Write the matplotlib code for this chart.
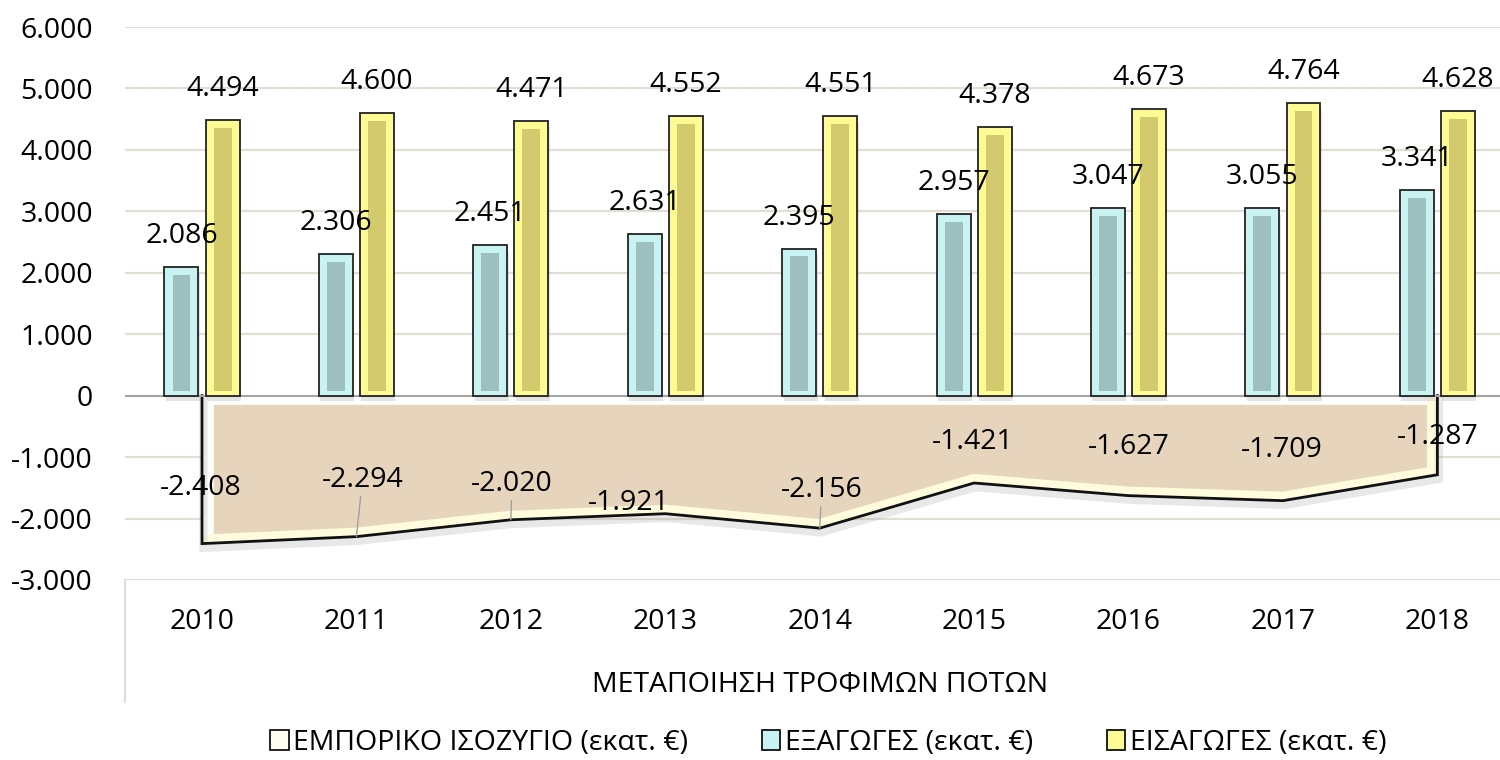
import numpy as np
import matplotlib
matplotlib.use("Agg")
import matplotlib.pyplot as plt
from matplotlib.patches import Polygon, Patch
from matplotlib import patheffects as pe
from matplotlib.transforms import blended_transform_factory

# ---------------- data ----------------
years = ["2010", "2011", "2012", "2013", "2014", "2015", "2016", "2017", "2018"]
exports = [2086, 2306, 2451, 2631, 2395, 2957, 3047, 3055, 3341]
imports = [4494, 4600, 4471, 4552, 4551, 4378, 4673, 4764, 4628]
balance = [-2408, -2294, -2020, -1921, -2156, -1421, -1627, -1709, -1287]
y_ticks = [-3000, -2000, -1000, 0, 1000, 2000, 3000, 4000, 5000, 6000]
group_label = "ΜΕΤΑΠΟΙΗΣΗ ΤΡΟΦΙΜΩΝ ΠΟΤΩΝ"
legend_labels = ["ΕΜΠΟΡΙΚΟ ΙΣΟΖΥΓΙΟ (εκατ. €)", "ΕΞΑΓΩΓΕΣ (εκατ. €)", "ΕΙΣΑΓΩΓΕΣ (εκατ. €)"]

# ---------------- style ----------------
plt.rcParams['font.family'] = ['Open Sans', 'DejaVu Sans']
FS = 20.5
GRID = '#E2DED4'
TAN = '#E6D5BC'
CREAM = '#FFFCDD'
EXP_OUT, EXP_IN = '#C9F3F2', '#9DBFBD'
IMP_OUT, IMP_IN = '#FFFB94', '#D3CA6D'

def fmt(v):
    return f"{v:,}".replace(",", ".")

W, H = 1500, 760
fig = plt.figure(figsize=(W / 100, H / 100), dpi=100)
x_left, x_right = 124.8, 1514.6
y_top, y_bot = 27, 580
ax = fig.add_axes([x_left / W, 1 - y_bot / H, (x_right - x_left) / W, (y_bot - y_top) / H])
ax.set_xlim(-0.5, len(years) - 0.5)
ax.set_ylim(-3000, 6000)
for s in ax.spines.values():
    s.set_visible(False)
ax.set_xticks([])
ax.set_yticks(y_ticks)
ax.set_yticklabels([fmt(t) for t in y_ticks], fontsize=FS)
ax.tick_params(axis='y', length=0, pad=23)
ax.grid(axis='y', color=GRID, lw=1.6, zorder=0)
ax.set_axisbelow(True)

x = np.arange(len(years))
blend = blended_transform_factory(ax.transData, ax.transAxes)

# ---------------- area (trade balance) ----------------
verts = [(x[0], 0)] + list(zip(x, balance)) + [(x[-1], 0)]
poly = Polygon(verts, closed=True, facecolor=TAN, edgecolor='none', zorder=1.5)
ax.add_patch(poly)
clip_lines = [
    ([x[0], x[-1]], [0, 0], 'white', 12),
    ([x[0], x[0]], [0, balance[0]], 'white', 17),
    (list(x), balance, CREAM, 13),
    ([x[-1], x[-1]], [balance[-1], 0], CREAM, 15),
]
for xx, yy, c, lw in clip_lines:
    ln, = ax.plot(xx, yy, color=c, lw=lw, solid_capstyle='butt', zorder=1.6)
    ln.set_clip_path(poly)
ox = [x[0]] + list(x) + [x[-1]]
oy = [0] + balance + [0]
ax.plot(ox, oy, color='#111111', lw=2.0, zorder=1.7, solid_joinstyle='miter',
        path_effects=[pe.SimpleLineShadow(offset=(1, -3), shadow_color='#999999', alpha=0.22, linewidth=6),
                      pe.Normal()])

# zero line
ax.axhline(0, color='#A6A6A6', lw=1.5, zorder=1.8)

# ---------------- bars ----------------
off, bw = 0.133, 0.22
ins_x = 0.052
ins_top, ins_bot = 130, 80
shadow = [pe.SimplePatchShadow(offset=(1, -4), shadow_rgbFace='#888888', alpha=0.22), pe.Normal()]
for vals, dx, co, ci in [(exports, -off, EXP_OUT, EXP_IN), (imports, off, IMP_OUT, IMP_IN)]:
    xs = x + dx
    bars = ax.bar(xs, vals, width=bw, color=co, edgecolor='#222222', linewidth=1.3, zorder=3)
    for b in bars:
        b.set_path_effects(shadow)
    ax.bar(xs, [v - ins_top - ins_bot for v in vals], bottom=ins_bot, width=bw - 2 * ins_x,
           color=ci, edgecolor='none', zorder=3.1)
    for xi, v in zip(xs, vals):
        ax.annotate(fmt(v), (xi, v), xytext=(0, 31), textcoords='offset pixels',
                    ha='center', va='center', fontsize=FS, zorder=5)

# ---------------- area labels ----------------
bal_offsets = [(-1, 56), (6, 57), (1, 36), (-37, 11), (2, 38), (-1, 41), (0, 49), (-1, 51), (0, 38)]
leaders = [False, True, True, False, True, False, False, False, False]
for xi, v, (dx, dy), lead in zip(x, balance, bal_offsets, leaders):
    kw = {}
    if lead:
        kw['arrowprops'] = dict(arrowstyle='-', color='#A0A0A0', lw=1.0, shrinkA=0, shrinkB=0)
    ax.annotate(fmt(v), (xi, v), xytext=(dx, dy), textcoords='offset pixels',
                ha='center', va='center', fontsize=FS, zorder=5, **kw)

# ---------------- category axis ----------------
ay_cat = (y_bot - 622) / (y_bot - y_top)
ay_grp = (y_bot - 685) / (y_bot - y_top)
ay_end = (y_bot - 702) / (y_bot - y_top)
for xi, lab in zip(x, years):
    ax.text(xi, ay_cat, lab, transform=blend, ha='center', va='center', fontsize=FS)
ax.text(0.5, ay_grp, group_label, transform=ax.transAxes, ha='center', va='center', fontsize=FS)
ax.plot([-0.5, -0.5], [0, ay_end], transform=blend, color=GRID, lw=1.6, clip_on=False)

# ---------------- legend ----------------
handles = [Patch(facecolor='#FFFDF0', edgecolor='#111111', lw=1.3),
           Patch(facecolor=EXP_OUT, edgecolor='#111111', lw=1.3),
           Patch(facecolor=IMP_OUT, edgecolor='#111111', lw=1.3)]
fig.legend(handles, legend_labels, loc='center', bbox_to_anchor=(828 / W, 1 - 743 / H), ncol=3,
           frameon=False, fontsize=FS, handlelength=0.65, handleheight=0.65,
           handletextpad=0.15, columnspacing=2.6, borderpad=0)

fig.savefig("out.png", dpi=100, facecolor='white')
